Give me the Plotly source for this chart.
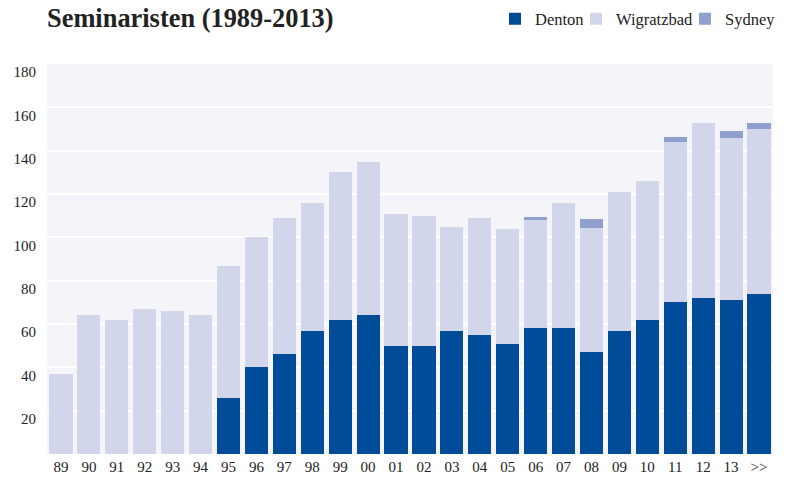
import plotly.graph_objects as go

# Categorii (ani) si valori
JAHRE = ["89", "90", "91", "92", "93", "94", "95", "96", "97", "98", "99", "00", "01",
         "02", "03", "04", "05", "06", "07", "08", "09", "10", "11", "12", "13", ">>"]
DENTON = [0, 0, 0, 0, 0, 0, 26, 40, 46, 57, 62, 64, 50,
          50, 57, 55, 51, 58, 58, 47, 57, 62, 70, 72, 71, 74]
WIGRATZBAD = [37, 64, 62, 67, 66, 64, 61, 60, 63, 59, 68, 71, 61,
              60, 48, 54, 53, 50, 58, 57.5, 64, 64, 74, 81, 75, 76]
SYDNEY = [0, 0, 0, 0, 0, 0, 0, 0, 0, 0, 0, 0, 0,
          0, 0, 0, 0, 1.5, 0, 3.8, 0, 0, 2.3, 0, 3.3, 2.8]
Y_TICKS = [20, 40, 60, 80, 100, 120, 140, 160, 180]

FONT = "Liberation Serif, DejaVu Serif, serif"

fig = go.Figure()
fig.add_trace(go.Bar(x=JAHRE, y=DENTON, name="Denton", legend="legend",
                     marker=dict(color="#004C99", line_width=0)))
fig.add_trace(go.Bar(x=JAHRE, y=WIGRATZBAD, name="Wigratzbad", legend="legend2",
                     marker=dict(color="#D1D6EA", line_width=0)))
fig.add_trace(go.Bar(x=JAHRE, y=SYDNEY, name="Sydney", legend="legend3",
                     marker=dict(color="#8F9FCE", line_width=0)))

# cate o legenda pentru fiecare serie, ca sa controlam spatierea
leg = dict(orientation="h", xanchor="right", y=1 - 19 / 481, yref="container", yanchor="middle",
           font=dict(family=FONT, size=16.5), itemwidth=30, bgcolor="rgba(0,0,0,0)")

fig.update_layout(
    barmode="stack",
    bargap=0.17,
    width=786, height=481,
    margin=dict(l=47, r=13, t=64, b=27, autoexpand=False),
    paper_bgcolor="white",
    plot_bgcolor="#F4F4F9",
    font=dict(family=FONT, size=15, color="#222222"),
    title=dict(text="<b>Seminaristen (1989-2013)</b>", x=0, xref="paper", xanchor="left",
               y=1 - 18 / 481, yref="container", yanchor="middle",
               font=dict(family=FONT, size=26.4, color="#222222")),
    legend=dict(leg, x=(589 - 47) / 726),
    legend2=dict(leg, x=(699 - 47) / 726),
    legend3=dict(leg, x=(781 - 47) / 726),
    showlegend=True,
)

fig.update_yaxes(range=[0, 180], tickvals=Y_TICKS, showgrid=True, gridcolor="white", gridwidth=1.6,
                 zeroline=False, showline=False, ticks="", automargin=False,
                 ticklabelstandoff=10, ticklabelshift=8)
fig.update_xaxes(showgrid=False, showline=False, ticks="", tickangle=0, automargin=False,
                 ticklabelstandoff=2)

# fara marginea implicita a paginii, ca figura sa inceapa din coltul ferestrei
fig.write_html("out.html", config={"displayModeBar": False},
               post_script="document.body.style.margin='0';")
